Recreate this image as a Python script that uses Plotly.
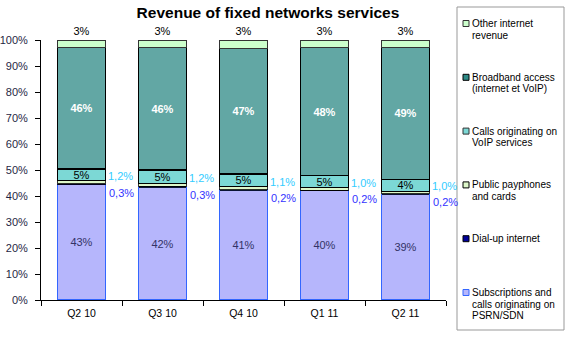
import plotly.graph_objects as go

# ---------------- data ----------------
categories = ["Q2 10", "Q3 10", "Q4 10", "Q1 11", "Q2 11"]

subscriptions = [44.4, 43.4, 42.3, 42.0, 40.7]   # Subscriptions and calls originating on PSRN/SDN
dialup        = [0.3, 0.3, 0.2, 0.2, 0.2]         # Dial-up internet
payphones     = [1.2, 1.2, 1.1, 1.0, 1.0]         # Public payphones and cards
voip          = [4.5, 5.1, 4.8, 4.6, 4.5]         # Calls originating on VoIP services
broadband     = [46.8, 47.3, 48.5, 49.4, 50.8]    # Broadband access (internet et VoIP)
other         = [2.8, 2.7, 3.1, 2.8, 2.8]         # Other internet revenue

subs_labels      = ["43%", "42%", "41%", "40%", "39%"]
dialup_labels    = ["0,3%", "0,3%", "0,2%", "0,2%", "0,2%"]
payphone_labels  = ["1,2%", "1,2%", "1,1%", "1,0%", "1,0%"]
voip_labels      = ["5%", "5%", "5%", "5%", "4%"]
broadband_labels = ["46%", "46%", "47%", "48%", "49%"]
other_labels     = ["3%", "3%", "3%", "3%", "3%"]

y_tick_vals = [0, 10, 20, 30, 40, 50, 60, 70, 80, 90, 100]
y_tick_text = ["0%", "10%", "20%", "30%", "40%", "50%", "60%", "70%", "80%", "90%", "100%"]

legend_names = [
    "Other internet\nrevenue",
    "Broadband access\n(internet et VoIP)",
    "Calls originating on\nVoIP services",
    "Public payphones\nand cards",
    "Dial-up internet",
    "Subscriptions and\ncalls originating on\nPSRN/SDN",
]

# ---------------- style ----------------
FONT = "Arial, Liberation Sans, sans-serif"
W, H = 571, 337
L, R, T, B = 41, 125, 40, 37
PW, PH = W - L - R, H - T - B

c_subs = "#B6B6FC"
c_dial = "#000099"
c_pay = "#DDF7C9"
c_voip = "#7CD8D5"
c_bb = "#62A7A4"
c_other = "#CCFFCC"

fig = go.Figure()

def bar(y, name, color, line_color, line_w, text=None, tpos="none", tfont=None):
    fig.add_trace(go.Bar(
        x=categories, y=y, name=name.replace("\n", " "),
        marker=dict(color=color, line=dict(color=line_color, width=line_w)),
        text=text, textposition=tpos, textangle=0,
        insidetextanchor="middle", constraintext="none",
        textfont=tfont, cliponaxis=False, hoverinfo="skip",
        showlegend=False,
    ))

bar(subscriptions, legend_names[5], c_subs, "#3366FF", 1.2, subs_labels, "inside",
    dict(family=FONT, size=11, color="#333366"))
bar(dialup, legend_names[4], c_dial, "#000000", 0.8)
bar(payphones, legend_names[3], c_pay, "#000000", 0.8)
bar(voip, legend_names[2], c_voip, "#000000", 1, voip_labels, "inside",
    dict(family=FONT, size=11, color="#000000"))
bar(broadband, legend_names[1], c_bb, "#000000", 1.5, broadband_labels, "inside",
    dict(family=FONT, size=11, color="#FFFFFF", weight="bold"))
bar(other, legend_names[0], c_other, "#333333", 1, other_labels, "outside",
    dict(family=FONT, size=11, color="#000000"))

# outside labels for the thin segments
annotations = []
for i, cat in enumerate(categories):
    subs_top = subscriptions[i]
    pay_top = subscriptions[i] + dialup[i] + payphones[i]
    annotations.append(dict(x=cat, y=pay_top, xref="x", yref="y", text=payphone_labels[i],
                            showarrow=False, xanchor="left", yanchor="middle", xshift=24, yshift=5,
                            font=dict(family=FONT, size=11, color="#33CCFF")))
    annotations.append(dict(x=cat, y=subs_top, xref="x", yref="y", text=dialup_labels[i],
                            showarrow=False, xanchor="left", yanchor="middle", xshift=25, yshift=-8,
                            font=dict(family=FONT, size=11, color="#3333FF")))

# manual legend
def px_x(px):
    return (px - L) / PW

def px_y(py):
    return (H - B - py) / PH

shapes = [dict(type="rect", xref="paper", yref="paper",
               x0=px_x(457), x1=px_x(564), y0=px_y(330), y1=px_y(7),
               line=dict(color="#999999", width=1), fillcolor="white", layer="below")]
leg_colors = [c_other, "#2E8A86", c_voip, c_pay, c_dial, c_subs]
leg_borders = ["#333333", "#000000", "#333333", "#000000", "#000000", "#3366FF"]
for k, name in enumerate(legend_names):
    yc = 23.5 + k * 53.8
    shapes.append(dict(type="rect", xref="paper", yref="paper",
                       x0=px_x(463), x1=px_x(469), y0=px_y(yc + 3), y1=px_y(yc - 3),
                       fillcolor=leg_colors[k], line=dict(color=leg_borders[k], width=1)))
    for j, line in enumerate(name.split("\n")):
        annotations.append(dict(x=px_x(470), y=px_y(yc + j * 11.6), xref="paper", yref="paper",
                                text=line, showarrow=False, xanchor="left", yanchor="middle",
                                font=dict(family=FONT, size=10, color="#000000")))

fig.update_layout(
    width=W, height=H,
    margin=dict(l=L, r=R, t=T, b=B, pad=0, autoexpand=False),
    barmode="stack", bargap=0.41,
    plot_bgcolor="white", paper_bgcolor="white",
    title=dict(text="<b>Revenue of fixed networks services</b>", x=268 / W, xref="container",
               xanchor="center", y=1 - 12.5 / H, yref="container", yanchor="middle",
               automargin=False,
               font=dict(family=FONT, size=15.5, color="#000000")),
    showlegend=False,
    annotations=annotations,
    shapes=shapes,
    xaxis=dict(range=[-0.5, len(categories) - 0.5], autorange=False, automargin=False,
               showline=True, linecolor="#000000", linewidth=1, ticks="outside",
               tickson="boundaries", ticklen=5, tickcolor="#000000", ticklabelstandoff=3,
               tickfont=dict(family=FONT, size=10.5, color="#000000"), showgrid=False,
               fixedrange=True),
    yaxis=dict(range=[0, 100], autorange=False, automargin=False,
               tickvals=y_tick_vals, ticktext=y_tick_text,
               showline=True, linecolor="#000000", linewidth=1, ticks="outside",
               ticklen=5, tickcolor="#000000", showgrid=False, zeroline=False,
               ticklabelstandoff=5,
               tickfont=dict(family=FONT, size=11, color="#1F1F44")),
)

fig.write_html("out.html")
